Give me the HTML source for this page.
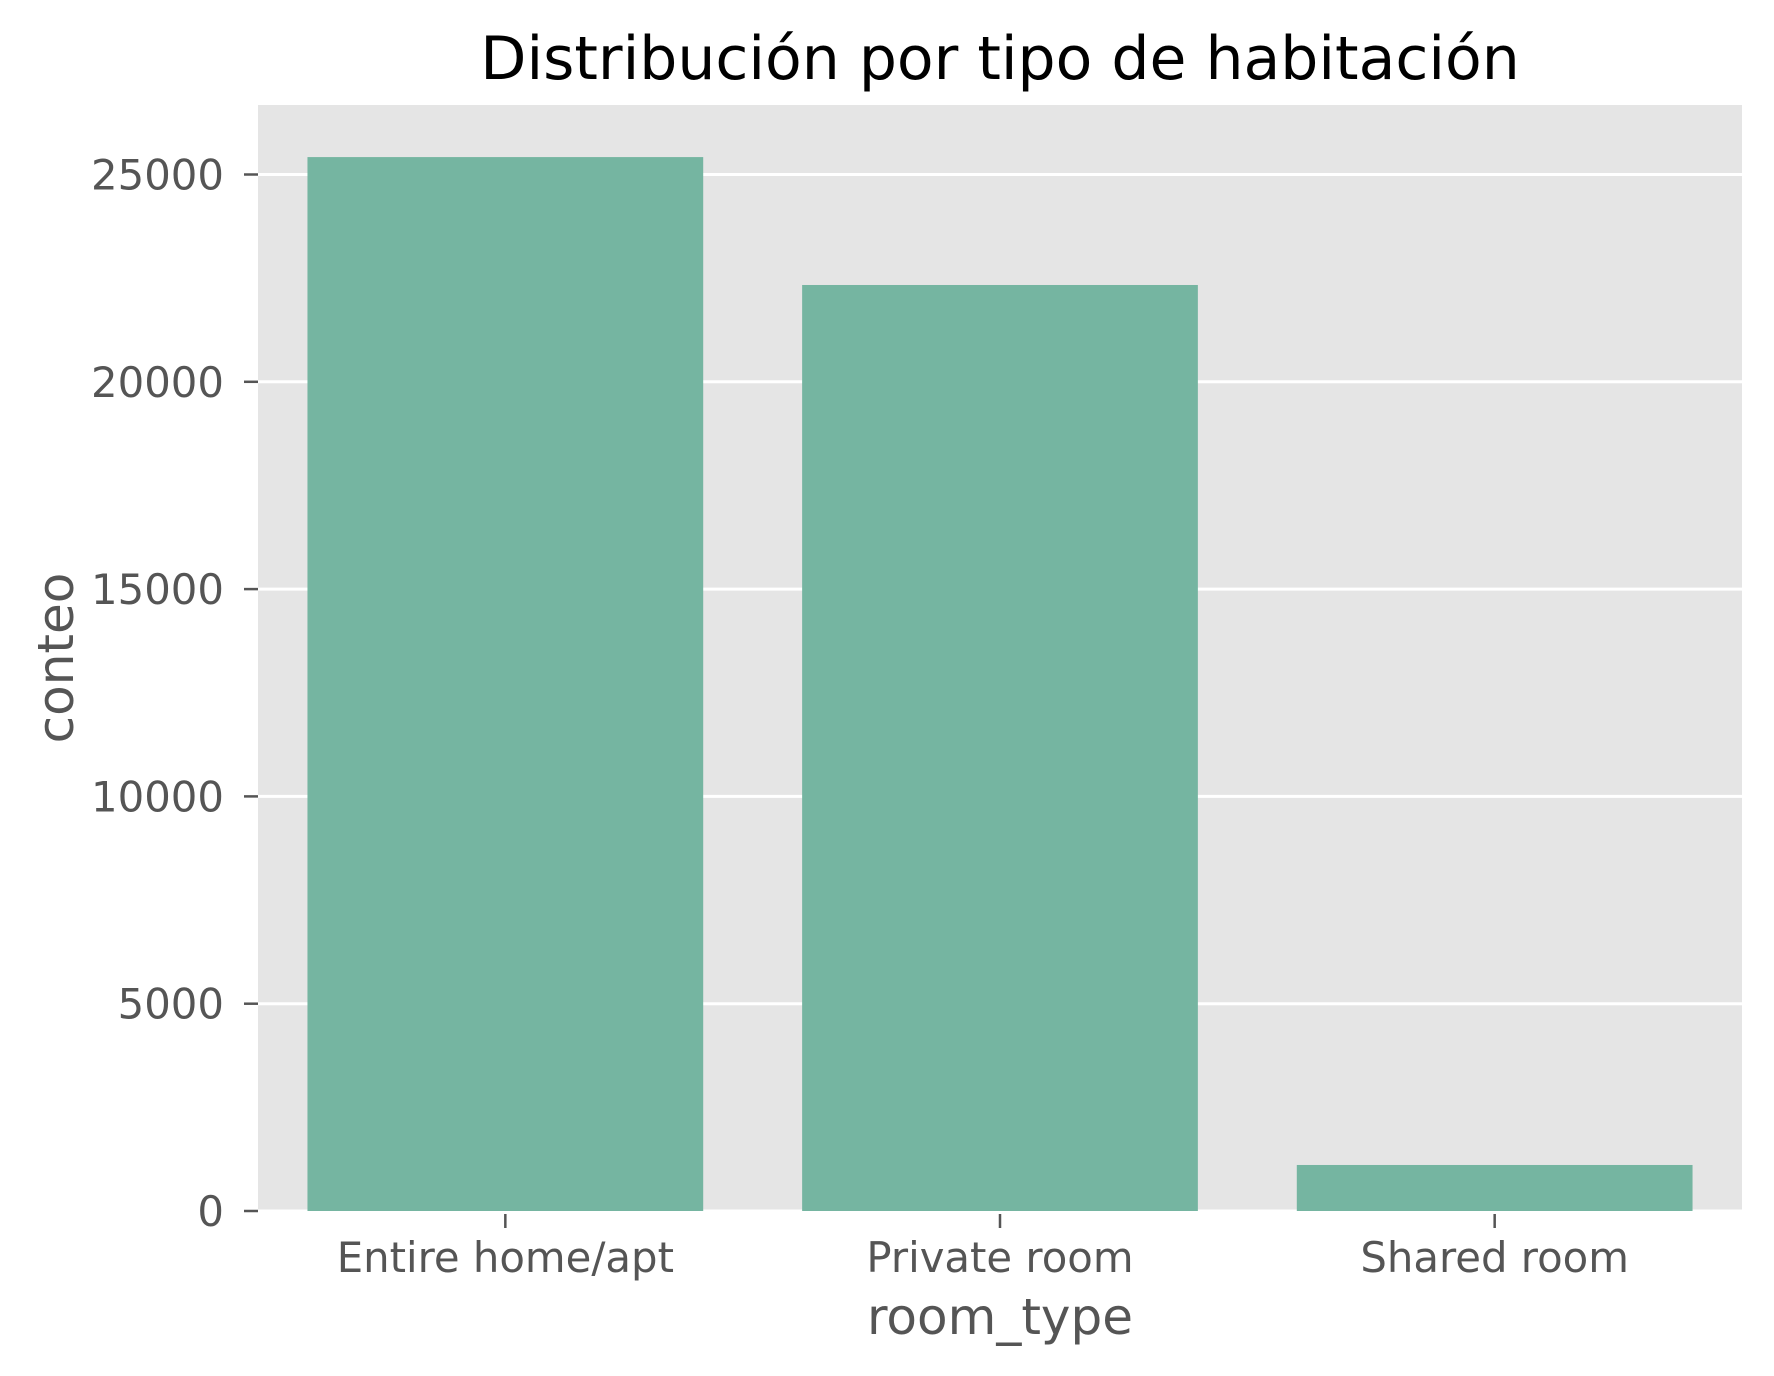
<!DOCTYPE html>
<html><head><meta charset="utf-8"><style>
body{margin:0;background:#fff}
svg{display:block;font-family:"DejaVu Sans","Liberation Sans",sans-serif}
</style></head><body>
<svg id="chart" width="1774" height="1376" viewBox="0 0 1774 1376" xmlns="http://www.w3.org/2000/svg">
<rect x="0" y="0" width="1774" height="1376" fill="#fff"/>
<rect x="258" y="105" width="1484" height="1106" fill="#E5E5E5"/>
<g id="grid"></g>
<g id="bars"></g>
<g id="yaxis"></g>
<g id="xaxis"></g>
<text x="1000" y="79" text-anchor="middle" font-size="60" fill="#000">Distribución por tipo de habitación</text>
<text x="1000" y="1334" text-anchor="middle" font-size="50" fill="#555">room_type</text>
<text transform="translate(73,658) rotate(-90)" text-anchor="middle" font-size="50" fill="#555">conteo</text>
</svg>
<script>
const categories = ["Entire home/apt", "Private room", "Shared room"];
const counts = [25420, 22335, 1110];
const yTicks = [0, 5000, 10000, 15000, 20000, 25000];
const yTickLabels = ["0", "5000", "10000", "15000", "20000", "25000"];

const NS = "http://www.w3.org/2000/svg";
const L = 258, R = 1742, T = 105, B = 1211;
const yMax = (B - T) / 207.3 * 5000;
function y(v){ return B - v / yMax * (B - T); }
function x(i){ return L + (i + 0.5) * (R - L) / categories.length; }
const bw = 0.8 * (R - L) / categories.length;
function mk(tag, attrs, parent){ const e = document.createElementNS(NS, tag); for (const k in attrs) e.setAttribute(k, attrs[k]); parent.appendChild(e); return e; }

const grid = document.getElementById('grid');
const yaxis = document.getElementById('yaxis');
yTicks.forEach((t, i) => {
  const g = mk('line', {x1: L, x2: R, y1: y(t), y2: y(t), stroke: '#fff', 'stroke-width': 3}, grid);
  
  
  const tk = mk('line', {x1: L - 14, x2: L, y1: y(t), y2: y(t), stroke: '#555', 'stroke-width': 2.5}, yaxis);
  
  
  const tx = mk('text', {x: L - 34, y: y(t) + 15, 'text-anchor': 'end', 'font-size': 41.8, fill: '#555'}, yaxis);
  tx.textContent = yTickLabels[i];
  
  
});

const bars = document.getElementById('bars');
const xaxis = document.getElementById('xaxis');
categories.forEach((c, i) => {
  const r = mk('rect', {x: x(i) - bw / 2, y: y(counts[i]), width: bw, height: B - y(counts[i]), fill: '#75B5A1'}, bars);
  
  
  const tk = mk('line', {x1: x(i), x2: x(i), y1: B + 3, y2: B + 17, stroke: '#555', 'stroke-width': 2.5}, xaxis);
  
  
  const tx = mk('text', {x: x(i), y: 1272, 'text-anchor': 'middle', 'font-size': 41.8, fill: '#555'}, xaxis);
  tx.textContent = c;
  
  
});
</script>
</body></html>
